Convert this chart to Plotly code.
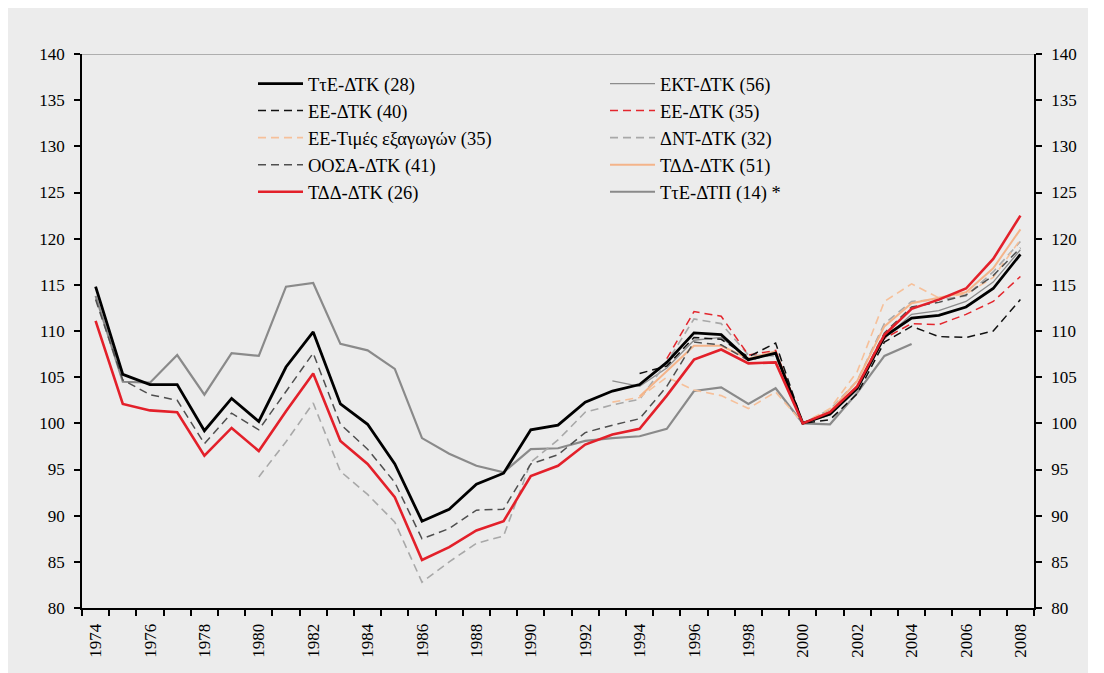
import plotly.graph_objects as go

years = list(range(1974, 2009))
N = None

tte_dtk28 = [114.8, 105.3, 104.2, 104.2, 99.2, 102.7, 100.2, 106.1, 109.9, 102.1, 99.9, 95.6, 89.4, 90.7, 93.4, 94.6,
             99.3, 99.8, 102.3, 103.5, 104.2, 106.6, 109.8, 109.6, 106.9, 107.6, 100.0, 101.0, 103.8, 109.4, 111.4,
             111.7, 112.6, 114.6, 118.3]
ekt_dtk56 = [N] * 19 + [104.6, 104.0, 106.0, 109.0, 109.3, 107.0, 107.5, 100.0, 100.9, 103.6, 109.2, 111.8, 112.2,
                        113.2, 115.3, 118.8]
ee_dtk40 = [N] * 20 + [105.4, 106.2, 109.3, 109.1, 107.2, 108.7, 100.0, 100.4, 103.2, 108.8, 110.5, 109.4, 109.3,
                       110.0, 113.4]
ee_dtk35 = [N] * 21 + [107.0, 112.1, 111.6, 107.4, 107.9, 100.0, 101.2, 104.0, 109.2, 110.8, 110.7, 111.8, 113.2,
                       115.9]
ee_exp35 = [N] * 19 + [102.3, 102.8, 105.0, 103.6, 103.0, 101.6, 103.4, 100.0, 101.6, 105.6, 113.2, 115.1, 113.6,
                       114.0, 115.8, 119.9]
dnt_dtk32 = [N] * 6 + [94.2, 98.0, 102.2, 94.8, 92.3, 89.3, 82.8, 85.0, 87.0, 87.8, 95.8, 98.2, 101.2, 102.0, 102.6,
                       106.6, 111.3, 110.8, 107.4, 107.3, 100.0, 101.5, 104.6, 110.8, 113.2, 113.4, 113.8, 116.4, 119.7]
ooesa_dtk41 = [113.4, 104.7, 103.1, 102.5, 97.8, 101.1, 99.3, 103.5, 107.6, 99.9, 97.2, 93.6, 87.5, 88.6, 90.6, 90.7,
               95.6, 96.6, 99.0, 99.8, 100.5, 104.0, 108.8, 108.5, 106.8, 107.6, 100.0, 101.0, 104.0, 109.8, 112.6,
               113.1, 113.9, 116.0, 119.0]
tdd_dtk51 = [N] * 20 + [102.9, 105.6, 108.4, 108.4, 107.0, 107.8, 100.0, 101.3, 104.6, 110.5, 113.0, 113.6, 114.2,
                        116.8, 121.0]
tdd_dtk26 = [111.1, 102.1, 101.4, 101.2, 96.5, 99.5, 97.0, 101.3, 105.4, 98.1, 95.6, 92.0, 85.2, 86.6, 88.4, 89.4,
             94.3, 95.4, 97.7, 98.8, 99.4, 103.0, 106.9, 108.0, 106.5, 106.6, 100.0, 101.2, 104.0, 109.6, 112.4,
             113.4, 114.6, 117.8, 122.5]
tte_dtp14 = [113.8, 104.5, 104.4, 107.4, 103.1, 107.6, 107.3, 114.8, 115.2, 108.6, 107.9, 105.9, 98.4, 96.7, 95.4,
             94.7, 97.2, 97.3, 98.1, 98.4, 98.6, 99.4, 103.5, 103.9, 102.1, 103.8, 100.0, 99.9, 103.3, 107.3, 108.6,
             N, N, N, N]

names = {
    "tte_dtk28": "ΤτΕ-ΔΤΚ (28)",
    "ekt_dtk56": "ΕΚΤ-ΔΤΚ (56)",
    "ee_dtk40": "ΕΕ-ΔΤΚ (40)",
    "ee_dtk35": "ΕΕ-ΔΤΚ (35)",
    "ee_exp35": "ΕΕ-Τιμές εξαγωγών (35)",
    "dnt_dtk32": "ΔΝΤ-ΔΤΚ (32)",
    "ooesa_dtk41": "ΟΟΣΑ-ΔΤΚ (41)",
    "tdd_dtk51": "ΤΔΔ-ΔΤΚ (51)",
    "tdd_dtk26": "ΤΔΔ-ΔΤΚ (26)",
    "tte_dtp14": "ΤτΕ-ΔΤΠ (14) *",
}

DASH = "8px,5px"
# key, data, color, width, dash, legend, rank  (listed in drawing order)
series = [
    ("tte_dtp14", tte_dtp14, "#8a8a8a", 2.2, "solid", "legend2", 5),
    ("ekt_dtk56", ekt_dtk56, "#8c8c8c", 1.3, "solid", "legend2", 1),
    ("dnt_dtk32", dnt_dtk32, "#a8a8a8", 1.6, DASH, "legend2", 3),
    ("ee_exp35", ee_exp35, "#f6c09a", 1.6, DASH, "legend", 3),
    ("tdd_dtk51", tdd_dtk51, "#f4b48a", 2.0, "solid", "legend2", 4),
    ("ooesa_dtk41", ooesa_dtk41, "#4f4f4f", 1.5, DASH, "legend", 4),
    ("ee_dtk35", ee_dtk35, "#e3262d", 1.5, DASH, "legend2", 2),
    ("ee_dtk40", ee_dtk40, "#111111", 1.5, DASH, "legend", 2),
    ("tte_dtk28", tte_dtk28, "#000000", 2.8, "solid", "legend", 1),
    ("tdd_dtk26", tdd_dtk26, "#e3202a", 2.6, "solid", "legend", 5),
]

fig = go.Figure()
for key, data, color, width, dash, leg, rank in series:
    fig.add_trace(go.Scatter(
        x=years, y=data, mode="lines", name=names[key],
        line=dict(color=color, width=width, dash=dash),
        legend=leg, legendrank=rank, legendgroup=key,
        connectgaps=False, hoverinfo="skip",
    ))

# helper trace so that the right-hand axis is rendered
fig.add_trace(go.Scatter(x=years, y=tte_dtk28, yaxis="y2", mode="lines", opacity=0,
                         showlegend=False, hoverinfo="skip"))

FONT = "Liberation Serif"
# page offset of the figure (browser body margin)
OFF = 8
W, H = 1080, 665
L, T = 82 - OFF, 54 - OFF
pw, ph = 952, 554
R, B = W - L - pw, H - T - ph

def px_x(px):  # page x -> paper x
    return (px - OFF - L) / pw

def px_y(py):  # page y -> paper y
    return (T + ph - (py - OFF)) / ph

yax = dict(range=[80, 140], tick0=80, dtick=5, ticks="outside", ticklen=6, tickwidth=1.5,
           tickcolor="black", showline=True, linecolor="black", linewidth=1.5, showgrid=False,
           zeroline=False, tickfont=dict(family=FONT, size=17, color="black"), ticklabelstandoff=6)

legend_common = dict(bgcolor="rgba(0,0,0,0)", borderwidth=0, itemwidth=45, tracegroupgap=7.3,
                     font=dict(family=FONT, size=18.5, color="black"), xanchor="left", yanchor="top",
                     orientation="v", traceorder="normal", itemclick=False)

fig.update_layout(
    width=W, height=H,
    margin=dict(l=L, r=R, t=T, b=B),
    paper_bgcolor="#ececec",
    plot_bgcolor="#ececec",
    font=dict(family=FONT, size=17, color="black"),
    xaxis=dict(range=[1973.5, 2008.5], tickmode="linear", tick0=1974, dtick=2, ticks="",
               tickangle=-90, showline=True, linecolor="black", linewidth=2, showgrid=False,
               zeroline=False, tickfont=dict(family=FONT, size=17, color="black"),
               ticklabelstandoff=7,
               minor=dict(tickmode="linear", tick0=1973.5, dtick=1, ticks="outside", ticklen=6,
                          tickwidth=1.5, tickcolor="black", showgrid=False)),
    yaxis=yax,
    yaxis2=dict(yax, overlaying="y", side="right"),
    legend=dict(legend_common, x=px_x(253), y=px_y(65)),
    legend2=dict(legend_common, x=px_x(605), y=px_y(65)),
    shapes=[
        dict(type="line", xref="paper", yref="y", x0=0, x1=1, y0=140, y1=140,
             line=dict(color="#9a9a9a", width=1.5)),
    ],
    showlegend=True,
)

fig.write_html("out.html")
